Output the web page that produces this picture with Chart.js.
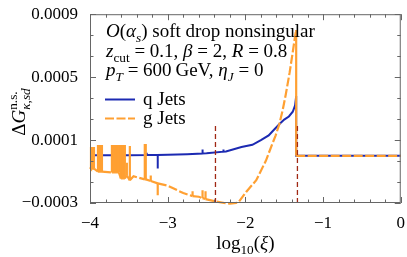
<!DOCTYPE html>
<html><head><meta charset="utf-8">
<script src="https://cdn.jsdelivr.net/npm/chart.js@4/dist/chart.umd.min.js"></script>
<style>html,body{margin:0;padding:0;background:#fff;}#wrap{width:407px;height:257px;}</style>
</head><body><div id="wrap"><canvas id="c" width="407" height="257"></canvas></div>
<script>
// ---- data ----
const qX = [-4, -3.5, -3.0, -2.75, -2.5, -2.25, -2.05, -1.91, -1.8, -1.7, -1.65, -1.564, -1.5, -1.44, -1.39, -1.36, -1.346, -1.346, -1.2, 0];
const qY = [0.000003, 0.000004, 0.000006, 0.00001, 0.000016, 0.000028, 0.000056, 0.00007, 0.0001, 0.00013, 0.000156, 0.0002, 0.00023, 0.00025, 0.00028, 0.00032, 0.00038, 0, 0, 0];
const qSpikeX    = [-3.885, -3.692, -3.603, -3.27, -3.128, -2.551, -2.282];
const qSpikeBase = [0.000003, 0.000003, 0.000003, 0.000005, 0.000005, 0.000015, 0.000026];
const qSpikeTip  = [0.00006, 0.000063, 0.000063, 0.00002, -0.00008, 0.00004, 0.00004];

const gX = [-4, -3.44, -3.0, -2.8, -2.6, -2.385, -2.25, -2.2, -2.12, -2.08, -1.99, -1.86, -1.735, -1.65, -1.61, -1.564, -1.52, -1.48, -1.43, -1.39, -1.36, -1.346, -1.346, -1.2, 0];
const gY = [-0.000073, -0.00013, -0.00019, -0.000237, -0.00026, -0.00029, -0.000302, -0.000304, -0.0003, -0.00029, -0.00023, -0.000155, -0.00003, 0.00008, 0.00013, 0.0002, 0.00029, 0.00039, 0.00053, 0.00066, 0.00076, 0.0008, 0, 0, 0];
const gSpikeX = [-3.9872, -3.9744, -3.9615, -3.9487,
  -3.8974, -3.8846, -3.8718, -3.859, -3.8462,
  -3.7179, -3.7051, -3.6923, -3.6795, -3.6667, -3.6538, -3.641, -3.6282,
  -3.6026, -3.5897, -3.5769, -3.5641, -3.5513,
  -3.5256, -3.4872, -3.2949, -3.2821, -3.2179, -3.1282, -2.6795, -2.5513, -2.5128];
const gSpikeBase = [-0.000081, -0.000081, -0.000081, -0.000081,
  -0.0001, -0.0001, -0.0001, -0.0001, -0.0001,
  -0.000106, -0.000106, -0.000106, -0.000106, -0.000106, -0.000106, -0.000106, -0.000106,
  -0.000144, -0.000144, -0.000144, -0.000144, -0.000144,
  -0.000125, -0.000156, -0.00015, -0.00015, -0.00016, -0.000175, -0.000256, -0.000269, -0.000275];
const gSpikeTip = [0.000056, 0.000056, 0.000056, 0.000056,
  0.000069, 0.000069, 0.000069, 0.000069, 0.000069,
  0.000069, 0.000069, 0.000069, 0.000069, 0.000069, 0.000069, 0.000069, 0.000069,
  0.000069, 0.000069, 0.000069, 0.000069, 0.000069,
  -0.000044, 0.0000625, 0.000075, 0.000075, -0.000125, -0.00025, -0.000225, -0.000219, -0.000225];

const cutX = [-2.385, -1.33];
const cutTop = [0.00019, 0.0002];
const cutBottom = [-0.0003, -0.0003];

const xTicks = [-4, -3, -2, -1, 0];
const yTicks = [-0.0003, 0.0001, 0.0005, 0.0009];
const xMinorStep = 0.2;
const yMinorStep = 0.0004 / 3;

// ---- build series ----
function merge(bx, by, sx, sb, st) {
  const pts = [];
  let o = 0;
  bx.forEach((x, i) => pts.push({x, y: by[i], o: o++}));
  sx.forEach((x, i) => {
    pts.push({x, y: sb[i], o: o++}, {x, y: st[i], o: o++}, {x, y: sb[i], o: o++});
  });
  pts.sort((a, b) => (a.x - b.x) || (a.o - b.o));
  return pts.map(p => ({x: p.x, y: p.y}));
}
const qPts = merge(qX, qY, qSpikeX, qSpikeBase, qSpikeTip);
const gPts = merge(gX, gY, gSpikeX, gSpikeBase, gSpikeTip);

const BLUE = 'rgb(28,42,178)';
const ORANGE = 'rgb(255,160,50)';
const RED = 'rgb(160,40,20)';
const FONT = '"Liberation Serif","DejaVu Serif",serif';
const minus = v => String(v).replace('-', '\u2212');

function rich(ctx, segs, x, y, size, draw) {
  let cx = x;
  for (const s of segs) {
    const small = s.sub || s.sup;
    const fs = small ? size * 0.7 : size;
    ctx.font = (s.i ? 'italic ' : '') + fs + 'px ' + FONT;
    const dy = s.sub ? size * 0.25 : (s.sup ? -size * 0.42 : 0);
    if (draw) ctx.fillText(s.t, cx, y + dy);
    if (!s.stay) cx += ctx.measureText(s.t).width;
  }
  return cx - x;
}

const framePlugin = {
  id: 'frame',
  afterDatasetsDraw(chart) {
    const ctx = chart.ctx, a = chart.chartArea;
    const xs = chart.scales.x, ys = chart.scales.y;
    ctx.save();
    ctx.strokeStyle = '#666';
    ctx.lineWidth = 1;
    ctx.strokeRect(a.left + 0.5, a.top + 0.5, a.right - a.left - 1, a.bottom - a.top - 1);
    ctx.beginPath();
    for (let k = 0; k <= 20; k++) {
      const v = -4 + k * xMinorStep;
      const major = k % 5 === 0;
      const L = major ? 6 : 3.5;
      const px = Math.round(xs.getPixelForValue(v)) + 0.5;
      ctx.moveTo(px, a.bottom); ctx.lineTo(px, a.bottom - L);
      ctx.moveTo(px, a.top); ctx.lineTo(px, a.top + L);
    }
    for (let k = 0; k <= 9; k++) {
      const v = -0.0003 + k * yMinorStep;
      const major = k % 3 === 0;
      const L = major ? 6 : 3.5;
      const py = Math.round(ys.getPixelForValue(v)) + 0.5;
      ctx.moveTo(a.left, py); ctx.lineTo(a.left + L, py);
      ctx.moveTo(a.right, py); ctx.lineTo(a.right - L, py);
    }
    ctx.stroke();

    // annotation text
    ctx.fillStyle = '#000';
    ctx.textBaseline = 'alphabetic';
    ctx.textAlign = 'left';
    const tx = 106, S = 19;
    rich(ctx, [{t: 'O', i: 1}, {t: '('}, {t: '\u03b1', i: 1}, {t: 's', i: 1, sub: 1}, {t: ') soft drop nonsingular'}], tx, 37, S, true);
    rich(ctx, [{t: 'z', i: 1}, {t: 'cut', sub: 1}, {t: ' = 0.1, '}, {t: '\u03b2', i: 1}, {t: ' = 2, '}, {t: 'R', i: 1}, {t: ' = 0.8'}], tx, 57, S, true);
    rich(ctx, [{t: 'p', i: 1}, {t: 'T', i: 1, sub: 1}, {t: ' = 600\u2009GeV, '}, {t: '\u03b7', i: 1}, {t: 'J', i: 1, sub: 1}, {t: ' = 0'}], tx, 76, S, true);

    // legend
    ctx.lineWidth = 2;
    ctx.strokeStyle = BLUE;
    ctx.setLineDash([]);
    ctx.beginPath(); ctx.moveTo(105, 99.5); ctx.lineTo(135, 99.5); ctx.stroke();
    ctx.strokeStyle = ORANGE;
    ctx.lineWidth = 2.2;
    ctx.setLineDash([9, 2.5]);
    ctx.beginPath(); ctx.moveTo(105, 118.5); ctx.lineTo(135, 118.5); ctx.stroke();
    ctx.setLineDash([]);
    ctx.font = S + 'px ' + FONT;
    ctx.fillText('q Jets', 143, 104.5);
    ctx.fillText('g Jets', 143, 123.5);

    // x title
    const XS = 19;
    const xt = [{t: 'log'}, {t: '10', sub: 1}, {t: '('}, {t: '\u03be', i: 1}, {t: ')'}];
    const w = rich(ctx, xt, 0, 0, XS, false);
    rich(ctx, xt, (a.left + a.right) / 2 - w / 2, 249, XS, true);

    // y title
    const yt = [{t: '\u0394'}, {t: 'G', i: 1}, {t: 'n.s.', sup: 1, stay: 1}, {t: '\u03ba,sd', i: 1, sub: 1}];
    const wy = rich(ctx, yt, 0, 0, XS, false);
    ctx.save();
    ctx.translate(25, 112);
    ctx.rotate(-Math.PI / 2);
    rich(ctx, yt, -wy / 2, 0, XS, true);
    ctx.restore();
    ctx.restore();
  }
};

const vertSolid = c => (c.p0.parsed.x === c.p1.parsed.x ? [] : [9, 2.5]);

new Chart(document.getElementById('c').getContext('2d'), {
  type: 'line',
  data: {
    datasets: [
      {label: 'cut1', data: [{x: cutX[0], y: cutBottom[0]}, {x: cutX[0], y: cutTop[0]}], borderColor: RED, borderWidth: 1.3, borderDash: [5, 3], pointRadius: 0, order: -1},
      {label: 'cut2', data: [{x: cutX[1], y: cutBottom[1]}, {x: cutX[1], y: cutTop[1]}], borderColor: RED, borderWidth: 1.3, borderDash: [5, 3], pointRadius: 0, order: -1},
      {label: 'g Jets', data: gPts, borderColor: ORANGE, borderWidth: 2.2, pointRadius: 0, tension: 0, order: 0, clip: 3, segment: {borderDash: vertSolid}},
      {label: 'q Jets', data: qPts, borderColor: BLUE, borderWidth: 2, pointRadius: 0, tension: 0, order: 1}
    ]
  },
  options: {
    responsive: false,
    animation: false,
    events: [],
    layout: {padding: {top: 11, right: 5, left: 0, bottom: 0}},
    plugins: {legend: {display: false}, tooltip: {enabled: false}, title: {display: false}},
    scales: {
      x: {
        type: 'linear', min: -4, max: 0,
        grid: {display: false}, border: {display: false},
        afterBuildTicks: s => { s.ticks = xTicks.map(v => ({value: v})); },
        afterFit: s => { s.height = 54; },
        ticks: {callback: v => minus(v), font: {family: FONT, size: 17}, color: '#000', padding: 2, maxRotation: 0, autoSkip: false}
      },
      y: {
        type: 'linear', min: -0.0003, max: 0.0009,
        grid: {display: false}, border: {display: false},
        afterBuildTicks: s => { s.ticks = yTicks.map(v => ({value: v})); },
        afterFit: s => { s.width = 90; },
        ticks: {callback: v => minus(Number(v).toFixed(4)), font: {family: FONT, size: 17}, color: '#000', padding: 4, autoSkip: false}
      }
    }
  },
  plugins: [framePlugin]
});
</script>
</body></html>
